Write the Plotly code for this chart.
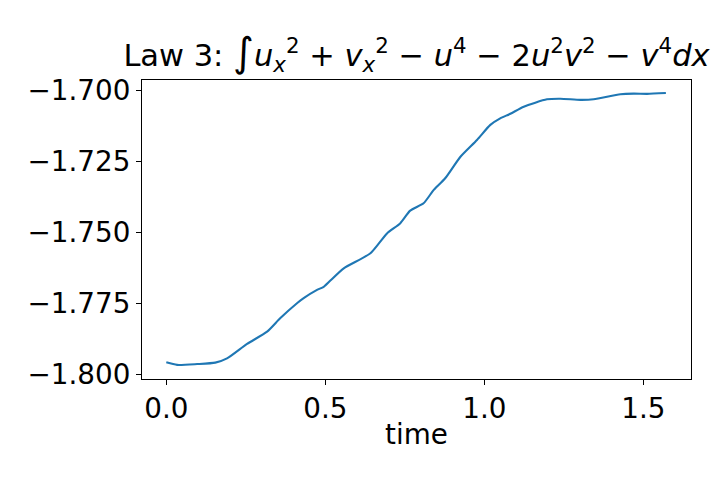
import plotly.graph_objects as go

time = [0.0, 0.034, 0.097, 0.154, 0.191, 0.254, 0.317, 0.358, 0.411, 0.432, 0.474, 0.495,
        0.516, 0.558, 0.642, 0.694, 0.736, 0.767, 0.809, 0.841, 0.877, 0.925, 0.977, 1.019,
        1.050, 1.082, 1.124, 1.197, 1.239, 1.302, 1.344, 1.428, 1.470, 1.512, 1.571]
law3 = [-1.7958, -1.7967, -1.7964, -1.7959, -1.7944, -1.7893, -1.7850, -1.7803, -1.7750,
        -1.7732, -1.7703, -1.7692, -1.7670, -1.7627, -1.7574, -1.7504, -1.7468, -1.7424,
        -1.7398, -1.7351, -1.7310, -1.7234, -1.7175, -1.7122, -1.7099, -1.7083, -1.7058,
        -1.7032, -1.7030, -1.7034, -1.7032, -1.7014, -1.7012, -1.7013, -1.7010]

x_ticks = [0.0, 0.5, 1.0, 1.5]
x_tick_labels = ["0.0", "0.5", "1.0", "1.5"]
y_ticks = [-1.800, -1.775, -1.750, -1.725, -1.700]

title_text = ("Law 3: <span style='font-size:40px'>∫</span><i>u</i><sub><i>x</i></sub><sup>2</sup>"
              " + <i>v</i><sub><i>x</i></sub><sup>2</sup> − <i>u</i><sup>4</sup> − 2<i>u</i><sup>2</sup>"
              "<i>v</i><sup>2</sup> − <i>v</i><sup>4</sup><i>dx</i>")

fig = go.Figure()
fig.add_trace(go.Scatter(x=time, y=law3, mode="lines",
                         line=dict(color="#1f77b4", width=2.1, shape="spline", smoothing=0.6),
                         showlegend=False, hoverinfo="skip"))

font = dict(family="DejaVu Sans", size=27.8, color="black")
axis_common = dict(showgrid=False, zeroline=False, showline=True, linecolor="black",
                   linewidth=1.1, mirror=True, ticks="outside", ticklen=5, tickwidth=1.1,
                   tickcolor="black", tickfont=font)

fig.update_layout(
    width=724, height=480,
    margin=dict(l=134, r=41, t=72, b=109),
    paper_bgcolor="white", plot_bgcolor="white",
    font=font,
    title=dict(text=title_text, x=0.5, xref="paper", xanchor="center",
               y=1 - 47 / 480, yref="container", yanchor="middle",
               font=dict(family="DejaVu Sans", size=30.5, color="black")),
    xaxis=dict(range=[-0.0764, 1.650], tickvals=x_ticks, ticktext=x_tick_labels,
               title=dict(text="time", font=font, standoff=0), **axis_common),
    yaxis=dict(range=[-1.80166, -1.6964], tickvals=y_ticks, tickformat=".3f", **axis_common),
)

fig.write_html("out.html")
